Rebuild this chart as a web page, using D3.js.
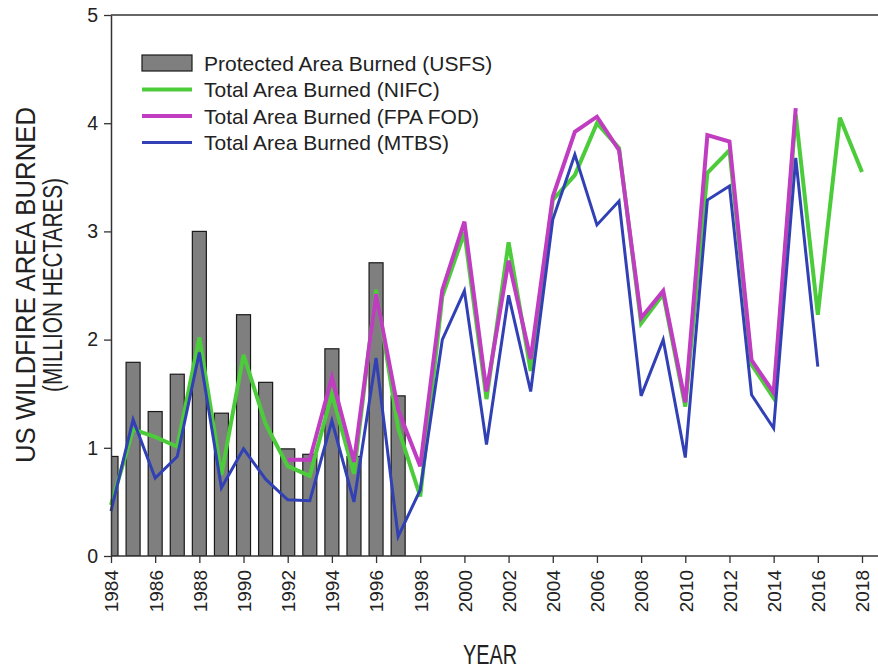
<!DOCTYPE html>
<html>
<head>
<meta charset="utf-8">
<script src="https://cdnjs.cloudflare.com/ajax/libs/d3/7.8.5/d3.min.js"></script>
<style>
  body { margin: 0; background: #fff; }
  svg { display: block; }
  text { font-family: Arial, "Liberation Sans", sans-serif; fill: #222; }
</style>
</head>
<body>
<svg id="chart" width="878" height="671"></svg>
<script>
// data (million hectares)
var usfsStart = 1984;
var usfs = [0.92, 1.79, 1.335, 1.68, 3.0, 1.32, 2.23, 1.605, 0.99, 0.94, 1.915, 0.92, 2.71, 1.48];

var nifcStart = 1984;
var nifc = [0.47, 1.17, 1.10, 1.01, 2.02, 0.75, 1.86, 1.22, 0.83, 0.74, 1.5, 0.76, 2.46, 1.18,
            0.55, 2.4, 2.99, 1.45, 2.9, 1.71, 3.29, 3.52, 4.0, 3.77, 2.15, 2.42, 1.38, 3.54,
            3.75, 1.77, 1.46, 4.08, 2.23, 4.05, 3.55];

var fpaStart = 1992;
var fpa = [0.89, 0.89, 1.65, 0.87, 2.42, 1.35, 0.83, 2.46, 3.09, 1.52, 2.73, 1.82, 3.32, 3.92,
           4.06, 3.75, 2.2, 2.45, 1.42, 3.89, 3.83, 1.81, 1.51, 4.14];

var mtbsStart = 1984;
var mtbs = [0.415, 1.26, 0.72, 0.92, 1.88, 0.63, 0.99, 0.71, 0.52, 0.51, 1.25, 0.5, 1.83, 0.18,
            0.61, 2.0, 2.45, 1.03, 2.41, 1.52, 3.11, 3.71, 3.06, 3.28, 1.48, 2.0, 0.91, 3.29,
            3.42, 1.49, 1.18, 3.68, 1.75];

var xTicks = d3.range(1984, 2019, 2);
var yTicks = [0, 1, 2, 3, 4, 5];

var legendNames = ['Protected Area Burned (USFS)', 'Total Area Burned (NIFC)',
                   'Total Area Burned (FPA FOD)', 'Total Area Burned (MTBS)'];
var colors = { nifc: '#4ccc3a', fpa: '#c03cc0', mtbs: '#3140b4' };

var svg = d3.select('#chart');
var pLeft = 111, pRight = 878, pTop = 15, pBottom = 556;

var x = d3.scaleLinear().domain([1984, 2018]).range([pLeft, 862]);
var y = d3.scaleLinear().domain([0, 5]).range([pBottom, pTop]);

function toPts(arr, start) {
  return arr.map(function (v, i) { return { year: start + i, v: v }; });
}

svg.append('clipPath').attr('id', 'plot')
  .append('rect').attr('x', pLeft).attr('y', pTop).attr('width', pRight - pLeft).attr('height', pBottom - pTop);

// bars
var barW = 14;
svg.append('g').attr('clip-path', 'url(#plot)')
  .selectAll('rect').data(toPts(usfs, usfsStart)).join('rect')
  .attr('x', function (d) { return x(d.year) - barW / 2; })
  .attr('y', function (d) { return y(d.v); })
  .attr('width', barW)
  .attr('height', function (d) { return y(0) - y(d.v); })
  .attr('fill', '#7f7f7f')
  .attr('stroke', '#1a1a1a')
  .attr('stroke-width', 1.2);

var line = d3.line().x(function (d) { return x(d.year); }).y(function (d) { return y(d.v); });

var series = [
  { pts: toPts(nifc, nifcStart), color: colors.nifc, w: 4 },
  { pts: toPts(fpa, fpaStart), color: colors.fpa, w: 4 },
  { pts: toPts(mtbs, mtbsStart), color: colors.mtbs, w: 3 }
];
series.forEach(function (s) {
  svg.append('path').datum(s.pts)
    .attr('d', line)
    .attr('fill', 'none')
    .attr('stroke', s.color)
    .attr('stroke-width', s.w)
    .attr('stroke-linejoin', 'miter');
});

// axes
var yAxis = svg.append('g').attr('transform', 'translate(' + pLeft + ',0)')
  .call(d3.axisLeft(y).tickValues(yTicks).tickFormat(d3.format('d')).tickSize(7).tickPadding(6).tickSizeOuter(0));
yAxis.select('.domain').attr('stroke', '#333').attr('stroke-width', 1.5);
yAxis.selectAll('.tick line').attr('stroke', '#333').attr('stroke-width', 1.3);
yAxis.selectAll('.tick text').attr('font-size', 19.5).attr('fill', '#222');

var xAxis = svg.append('g').attr('transform', 'translate(0,' + pBottom + ')')
  .call(d3.axisBottom(x).tickValues(xTicks).tickFormat(d3.format('d')).tickSize(7).tickSizeOuter(0));
xAxis.select('.domain').attr('d', 'M' + pLeft + ',0H' + pRight).attr('stroke', '#333').attr('stroke-width', 1.5);
xAxis.selectAll('.tick line').attr('stroke', '#333').attr('stroke-width', 1.3);
xAxis.selectAll('.tick text')
  .attr('font-size', 19).attr('fill', '#222')
  .attr('text-anchor', 'end')
  .attr('transform', 'rotate(-90)')
  .attr('x', -14).attr('y', 0).attr('dy', '0.36em');

// top frame line
svg.append('line').attr('x1', pLeft).attr('x2', pRight).attr('y1', pTop).attr('y2', pTop)
  .attr('stroke', '#333').attr('stroke-width', 1.5);

// axis titles (condensed look via textLength)
svg.append('text').attr('x', 490).attr('y', 664).attr('text-anchor', 'middle')
  .attr('font-size', 27).attr('textLength', 54).attr('lengthAdjust', 'spacingAndGlyphs')
  .text('YEAR');
var yt = svg.append('g').attr('transform', 'translate(0,285) rotate(-90)');
yt.append('text').attr('x', 0).attr('y', 35).attr('text-anchor', 'middle')
  .attr('font-size', 28)
  .attr('textLength', 356).attr('lengthAdjust', 'spacingAndGlyphs')
  .text('US WILDFIRE AREA BURNED');
yt.append('text').attr('x', 0).attr('y', 62).attr('text-anchor', 'middle')
  .attr('font-size', 28)
  .attr('textLength', 214).attr('lengthAdjust', 'spacingAndGlyphs')
  .text('(MILLION HECTARES)');

// legend
var lg = svg.append('g');
var rowY = [63, 89.5, 116, 142.5];
lg.append('rect').attr('x', 142).attr('y', 55).attr('width', 50).attr('height', 16)
  .attr('fill', '#7f7f7f').attr('stroke', '#1a1a1a').attr('stroke-width', 1.2);
[colors.nifc, colors.fpa, colors.mtbs].forEach(function (c, i) {
  lg.append('line').attr('x1', 142).attr('x2', 192)
    .attr('y1', rowY[i + 1]).attr('y2', rowY[i + 1])
    .attr('stroke', c).attr('stroke-width', i === 2 ? 3 : 4);
});
legendNames.forEach(function (n, i) {
  lg.append('text').attr('x', 204).attr('y', rowY[i]).attr('dy', '0.36em')
    .attr('font-size', 21).text(n);
});
</script>
</body>
</html>
